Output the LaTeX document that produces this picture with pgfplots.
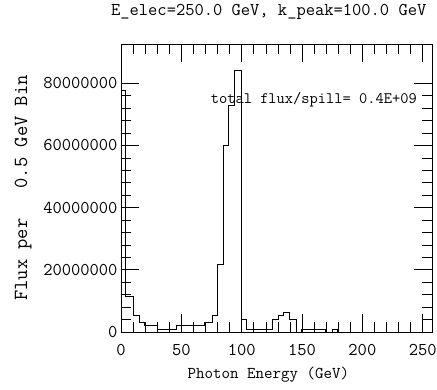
\documentclass[border=0pt]{standalone}
\usepackage{fontspec}
\usepackage{pgfplots}
\pgfplotsset{compat=1.18}
\newcommand\fs[1]{\ttfamily\fontsize{#1}{#1}\selectfont}
\pgfplotstableread{
x y
0 0
0 77.8e6
4 11.6e6
10.3 5.2e6
15.2 3.1e6
19.3 2.0e6
30.1 1.0e6
46 2.0e6
69 3.1e6
75.7 5.2e6
79.8 21.8e6
84.8 60e6
88.9 73e6
94.1 84e6
99.6 4.1e6
103.8 1.0e6
125.5 4.1e6
130 5.2e6
134.5 6.2e6
139.2 4.1e6
145.6 0
149.7 1.0e6
169 0
175 1.0e6
179.2 0
257.7 0
}\histo
\begin{document}
\begin{tikzpicture}
\path[use as bounding box] (-121pt,-57pt) rectangle (316pt,332pt);
\begin{axis}[
  at={(0,0)}, anchor=south west,
  scale only axis, width=311pt, height=288pt,
  xmin=0, xmax=257.7, ymin=0, ymax=92.6e6,
  xtick={0,50,100,150,200,250}, xticklabels={0,50,100,150,200,250},
  ytick={0,2e7,4e7,6e7,8e7}, yticklabels={0,20000000,40000000,60000000,80000000},
  scaled y ticks=false, scaled x ticks=false,
  minor x tick num=4, minor y tick num=4,
  major tick length=18pt, minor tick length=10pt,
  tick style={black, line width=0.6pt},
  axis line style={line width=0.7pt},
  ticklabel style={font=\fs{18}},
  xticklabel style={anchor=center, yshift=-18pt},
  xlabel={Photon Energy (GeV)},
  xlabel style={font=\fs{16.5}, at={(axis description cs:0.474,-0.149)}, anchor=center},
  ylabel={Flux per\hspace{30pt}0.5 GeV Bin},
  ylabel style={font=\fs{20}, at={(axis description cs:-0.315,0.5)}, anchor=center},
  title={E\_elec=250.0 GeV, k\_peak=100.0 GeV},
  title style={font=\fs{18}, at={(axis description cs:0.475,1.09)}, anchor=center},
]
\addplot[const plot, black, line width=0.7pt] table[x=x,y=y] {\histo};
\node[font=\fs{16}] at (rel axis cs:0.620,0.806) {total flux/spill= 0.4E+09};
\end{axis}
\end{tikzpicture}
\end{document}
